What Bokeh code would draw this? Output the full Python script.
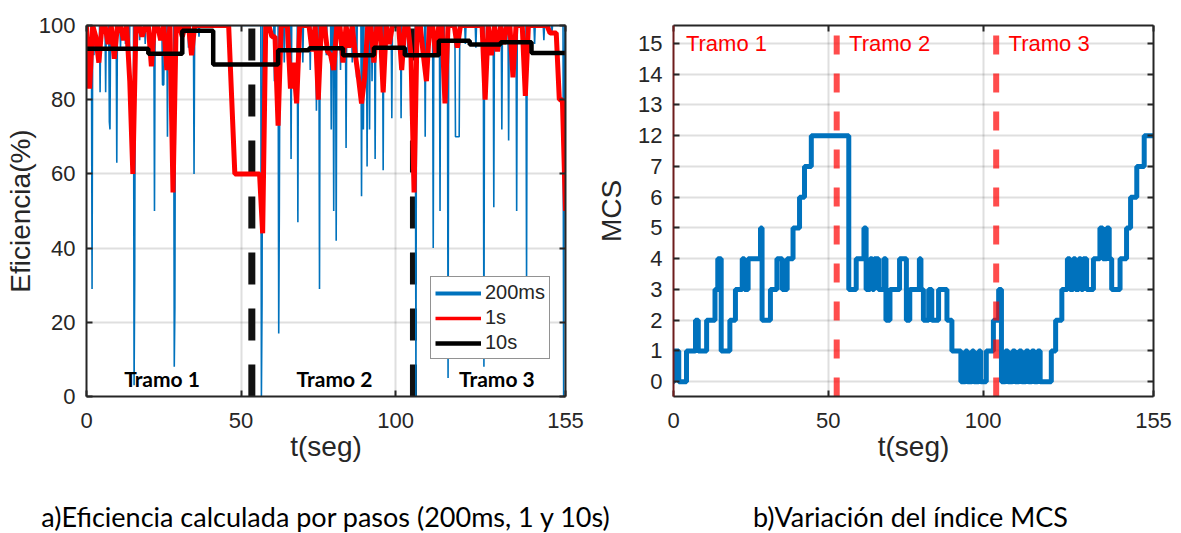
import numpy as np
from bokeh.plotting import figure
from bokeh.models import (Range1d, FixedTicker, LinearAxis, Legend, LegendItem)
from bokeh.layouts import row, column
from bokeh.embed import file_html
from bokeh.resources import INLINE
from bokeh.core.properties import value

# ----------------------------- data: panel a -----------------------------
# 200 ms efficiency: sampled every 0.2 s, sits at 100 % except these drops
t_200ms_dips = [1.8, 2.4, 4.4, 5.0, 6.2, 7.4, 7.6, 9.8, 11.0, 12.6, 13.8, 15.4, 15.6,
                17.2, 19.0, 22.0, 24.6, 24.8, 25.0, 26.2, 28.4, 28.6, 31.2, 33.0, 34.8,
                36.4, 56.6, 56.8, 60.8, 62.2, 62.4, 64.0, 66.2, 68.4, 70.0, 72.4, 74.4,
                75.4, 77.6, 79.2, 80.0, 80.8, 82.2, 84.0, 86.0, 87.4, 89.0, 89.6, 90.8,
                91.6, 92.4, 93.4, 96.0, 98.8, 101.8, 104.0, 106.6, 109.6, 110.6, 112.2,
                114.4, 115.6, 117.0, 119.4, 119.6, 119.8, 120.0, 120.2, 120.4, 120.6,
                122.6, 126.0, 128.6, 131.8, 134.4, 136.6, 139.2, 142.4, 145.0, 148.0,
                150.6, 154.4, 154.6]
v_200ms_dips = [29, 92, 82, 95, 82, 74, 72, 63, 94, 95, 84, 3, 32,
                96, 95, 50, 84, 84, 84, 70, 8, 24, 95, 94, 60,
                97, 0, 25, 85, 17, 50, 90, 64, 47, 90, 88, 77,
                29, 92, 72, 50, 42, 88, 67, 90, 86, 54, 72, 62,
                72, 85, 64, 61, 75, 75, 92, 0, 70, 92, 40,
                50, 90, 5, 70, 70, 70, 70, 70, 70, 70,
                95, 94, 8, 51, 72, 69, 50, 31, 95, 96,
                98, 0, 75]
ceiling_200ms = 100.0
t_end = 155.0

# 1 s efficiency, one value per second (t = 0 ... 155)
v_1s = [100, 83, 100, 97, 90, 100, 100, 95, 100, 91,
        100, 100, 96, 100, 85, 60, 100, 100, 97, 100,
        100, 89, 100, 100, 96, 100, 88, 100, 55, 100,
        100, 97, 100, 100, 92, 100, 100, 100, 100, 100,
        100, 100, 100, 100, 100, 100, 100, 80, 60, 60,
        60, 60, 60, 60, 60, 60, 60, 44, 100, 100,
        97, 97, 73, 100, 100, 100, 83, 90, 79, 100,
        100, 100, 100, 93, 100, 80, 100, 100, 93, 92,
        88, 100, 100, 90, 100, 94, 100, 92, 86, 79,
        86, 100, 100, 90, 100, 100, 82, 100, 95, 100,
        100, 100, 88, 100, 100, 92, 55, 100, 100, 92,
        85, 100, 100, 92, 100, 100, 79, 100, 100, 100,
        94, 100, 100, 100, 100, 100, 100, 100, 100, 80,
        100, 92, 100, 93, 100, 95, 100, 100, 86, 100,
        100, 100, 81, 100, 100, 100, 100, 100, 100, 100,
        98, 98, 98, 80, 80, 50]

# 10 s efficiency (step starts and values; last entry closes the series)
t_10s = [0, 10, 20, 31, 41, 52, 62, 72, 83, 93, 103, 114, 124, 134, 144, 155]
v_10s = [93.7, 93.7, 92.4, 98.6, 89.5, 89.5, 93.3, 93.9, 92.0, 94.0, 92.0, 95.9,
         94.9, 95.5, 92.6, 92.6]

tramo_bounds_a = [53.5, 105.8]
tramo_names = ["Tramo 1", "Tramo 2", "Tramo 3"]
x_ticks = [0, 50, 100, 155]
y_ticks_a = [0, 20, 40, 60, 80, 100]
legend_labels = ["200ms", "1s", "10s"]

# ----------------------------- data: panel b -----------------------------
mcs_t = [0, 0.2, 1.7, 4.2, 7.1, 8.0, 10.7, 13.4, 14.3, 15.4, 18.2, 20.0, 22.2, 22.9,
         24.1, 28.1, 28.6, 31.3, 33.4, 35.1, 36.7, 38.6, 40.7, 42.3, 44.5, 56.6, 59.0,
         61.5, 62.2, 63.5, 64.2, 64.8, 66.2, 67.9, 68.6, 69.9, 73.0, 75.2, 76.3, 79.4,
         79.9, 80.7, 82.4, 83.4, 85.6, 88.3, 89.9, 92.8, 94.3, 94.9, 96.4, 97.0, 98.6,
         99.2, 101.0, 103.3, 105.0, 105.9, 107.2, 108.0, 109.5, 110.3, 111.6, 112.4,
         113.8, 114.6, 115.7, 116.5, 117.6, 118.4, 122.0, 123.4, 125.4, 127.2, 128.0,
         129.1, 129.8, 130.9, 131.6, 132.3, 133.4, 135.6, 137.7, 138.6, 139.9, 140.7,
         141.5, 144.2, 146.3, 147.6, 149.6, 152.0, 155]
mcs_v = [0, 1, 0, 1, 2, 1, 2, 3, 4, 1, 2, 3, 4, 3,
         4, 5, 2, 3, 4, 3, 4, 5, 6, 7, 12, 3, 4,
         5, 3, 4, 3, 4, 3, 4, 2, 3, 4, 2, 3, 4,
         3, 2, 3, 2, 3, 2, 1, 0, 1, 0, 1, 0, 1,
         0, 1, 2, 3, 0, 1, 0, 1, 0, 1, 0,
         1, 0, 1, 0, 1, 0, 1, 2, 3, 4, 3,
         4, 3, 4, 3, 4, 3, 4, 5, 4, 5, 4,
         3, 4, 5, 6, 7, 12, 12]
mcs_levels = [0, 1, 2, 3, 4, 5, 6, 7, 12, 13, 14, 15]
tramo_bounds_b = [0, 52.7, 104.2]

captions = ["a)Eficiencia calculada por pasos (200ms, 1 y 10s)",
            "b)Variación del índice MCS"]

# ----------------------------- styling -----------------------------
FONT = "Liberation Sans"
AX = "#262626"
BLUE = "#0072BD"
RED = "#FF0000"
W, H_PLOT, H_CAP = 1181, 480, 53


def box_axis(ticks):
    # unlabelled mirror axis: ticks given as minor ticks only, so no labels are drawn
    return LinearAxis(ticker=FixedTicker(ticks=[], minor_ticks=ticks),
                      axis_line_color=AX, axis_line_width=2,
                      major_tick_line_color=None, major_label_text_font_size="0px",
                      major_label_standoff=0,
                      minor_tick_in=6, minor_tick_out=0, minor_tick_line_color=AX,
                      minor_tick_line_width=2)


def style_axes(p, xt, yt, y_over=None):
    p.xaxis.ticker = FixedTicker(ticks=xt)
    p.yaxis.ticker = FixedTicker(ticks=yt)
    if y_over:
        p.yaxis.major_label_overrides = y_over
    for ax in [p.xaxis[0], p.yaxis[0]]:
        ax.major_label_text_font = FONT
        ax.major_label_text_font_size = "22px"
        ax.major_label_text_color = AX
        ax.axis_label_text_font = FONT
        ax.axis_label_text_font_size = "28px"
        ax.axis_label_text_font_style = "normal"
        ax.axis_label_text_color = AX
        ax.axis_line_color = AX
        ax.axis_line_width = 2
        ax.major_tick_in = 6
        ax.major_tick_out = 0
        ax.major_tick_line_color = AX
        ax.major_tick_line_width = 2
        ax.minor_tick_line_color = None
    p.xaxis.major_label_standoff = 16
    p.yaxis.major_label_standoff = 11
    p.xaxis.axis_label_standoff = 0
    p.add_layout(box_axis(xt), "above")
    p.add_layout(box_axis(yt), "right")
    p.xgrid.ticker = FixedTicker(ticks=[t for t in xt if t not in (xt[0], xt[-1])])
    p.ygrid.ticker = FixedTicker(ticks=yt)
    for g in [p.xgrid[0], p.ygrid[0]]:
        g.grid_line_color = AX
        g.grid_line_alpha = 0.15
        g.grid_line_width = 2
    p.outline_line_color = None
    p.background_fill_color = "white"
    p.border_fill_color = "white"


# ----------------------------- panel a -----------------------------
p1 = figure(width=590, height=H_PLOT, x_range=Range1d(0, t_end), y_range=Range1d(0, 100),
            output_backend="svg", toolbar_location=None,
            min_border_left=86, min_border_right=25, min_border_top=18, min_border_bottom=84)
p1.xaxis.axis_label = "t(seg)"
p1.yaxis.axis_label = "Eficiencia(%)"
style_axes(p1, x_ticks, y_ticks_a)
p1.yaxis.axis_label_standoff = 0

ya0, ya1 = p1.y_range.start, p1.y_range.end
p1.segment(x0=tramo_bounds_a, y0=[ya0] * len(tramo_bounds_a), x1=tramo_bounds_a,
           y1=[ya1] * len(tramo_bounds_a), line_color="#111111", line_width=7,
           line_dash="32 24")

# 200 ms series
t200 = np.round(np.arange(0, t_end + 0.001, 0.2), 1)
v200 = np.full(len(t200), ceiling_200ms)
for t, v in zip(t_200ms_dips, v_200ms_dips):
    v200[int(round(t / 0.2))] = v
p1.line(t200, v200, line_color=BLUE, line_width=1.6)
# 1 s series
p1.line(np.arange(len(v_1s)), v_1s, line_color=RED, line_width=5)
# 10 s series
p1.step(t_10s, v_10s, mode="after", line_color="black", line_width=4.5)

# Tramo labels (bold)
mid_a = [(0 + tramo_bounds_a[0]) / 2 - 2.3, (tramo_bounds_a[0] + tramo_bounds_a[1]) / 2 + 0.6,
         (tramo_bounds_a[1] + t_end) / 2 + 2.4]
p1.text(x=mid_a, y=[4.8] * 3, text=tramo_names, text_font=value("Lato"),
        text_font_style="bold", text_font_size="21px", text_color="black",
        text_align="center", text_baseline="middle")

# legend proxies (not visible in the plot area: NaN data)
nan2 = [np.nan, np.nan]
lg_b = p1.line(nan2, nan2, line_color=BLUE, line_width=4)
lg_r = p1.line(nan2, nan2, line_color=RED, line_width=3.5)
lg_k = p1.line(nan2, nan2, line_color="black", line_width=4.5)
leg = Legend(items=[LegendItem(label=legend_labels[0], renderers=[lg_b]),
                    LegendItem(label=legend_labels[1], renderers=[lg_r]),
                    LegendItem(label=legend_labels[2], renderers=[lg_k])],
             location=(344, 37), glyph_width=46, glyph_height=22, label_height=22,
             label_width=50, spacing=2, padding=4, margin=0, label_standoff=4,
             label_text_font=FONT, label_text_font_size="20px", label_text_color=AX,
             border_line_color=AX, border_line_width=1, background_fill_color="white",
             background_fill_alpha=1)
p1.add_layout(leg)

# ----------------------------- panel b -----------------------------
pos = {lvl: i for i, lvl in enumerate(mcs_levels)}
p2 = figure(width=W - 590, height=H_PLOT, x_range=Range1d(0, t_end),
            y_range=Range1d(-0.48, 11.58),
            output_backend="svg", toolbar_location=None,
            min_border_left=83, min_border_right=28, min_border_top=25, min_border_bottom=78)
p2.xaxis.axis_label = "t(seg)"
p2.yaxis.axis_label = "MCS"
style_axes(p2, x_ticks, list(range(len(mcs_levels))),
           y_over={i: str(l) for i, l in enumerate(mcs_levels)})
p2.yaxis.axis_label_standoff = 8
p2.yaxis[0].axis_line_color = "#6e1c1c"

p2.step(mcs_t, [pos[v] for v in mcs_v], mode="after", line_color=BLUE, line_width=5)

yb0, yb1 = p2.y_range.start, p2.y_range.end
p2.segment(x0=tramo_bounds_b[1:], y0=[yb0] * 2, x1=tramo_bounds_b[1:], y1=[yb1] * 2,
           line_color=RED, line_alpha=0.7, line_width=6, line_dash="19 19")
p2.text(x=[b + 4.0 for b in tramo_bounds_b], y=[11] * 3, text=tramo_names,
        text_font=value(FONT), text_font_size="22px", text_color=RED,
        text_align="left", text_baseline="middle")

# ----------------------------- captions strip -----------------------------
pc = figure(width=W, height=H_CAP, x_range=Range1d(0, W), y_range=Range1d(0, H_CAP),
            output_backend="svg", toolbar_location=None, x_axis_type=None, y_axis_type=None,
            min_border=0)
pc.outline_line_color = None
pc.background_fill_color = "white"
pc.border_fill_color = "white"
cap_centers = [326, 910]   # screen x of each caption centre
pc.text(x=cap_centers, y=[H_CAP - 36] * 2, text=captions, text_font=value("Lato"),
        text_font_size="27px", text_color="black", text_align="center",
        text_baseline="middle")

layout = column(row(p1, p2), pc)
open("out.html", "w").write(file_html(layout, INLINE))
